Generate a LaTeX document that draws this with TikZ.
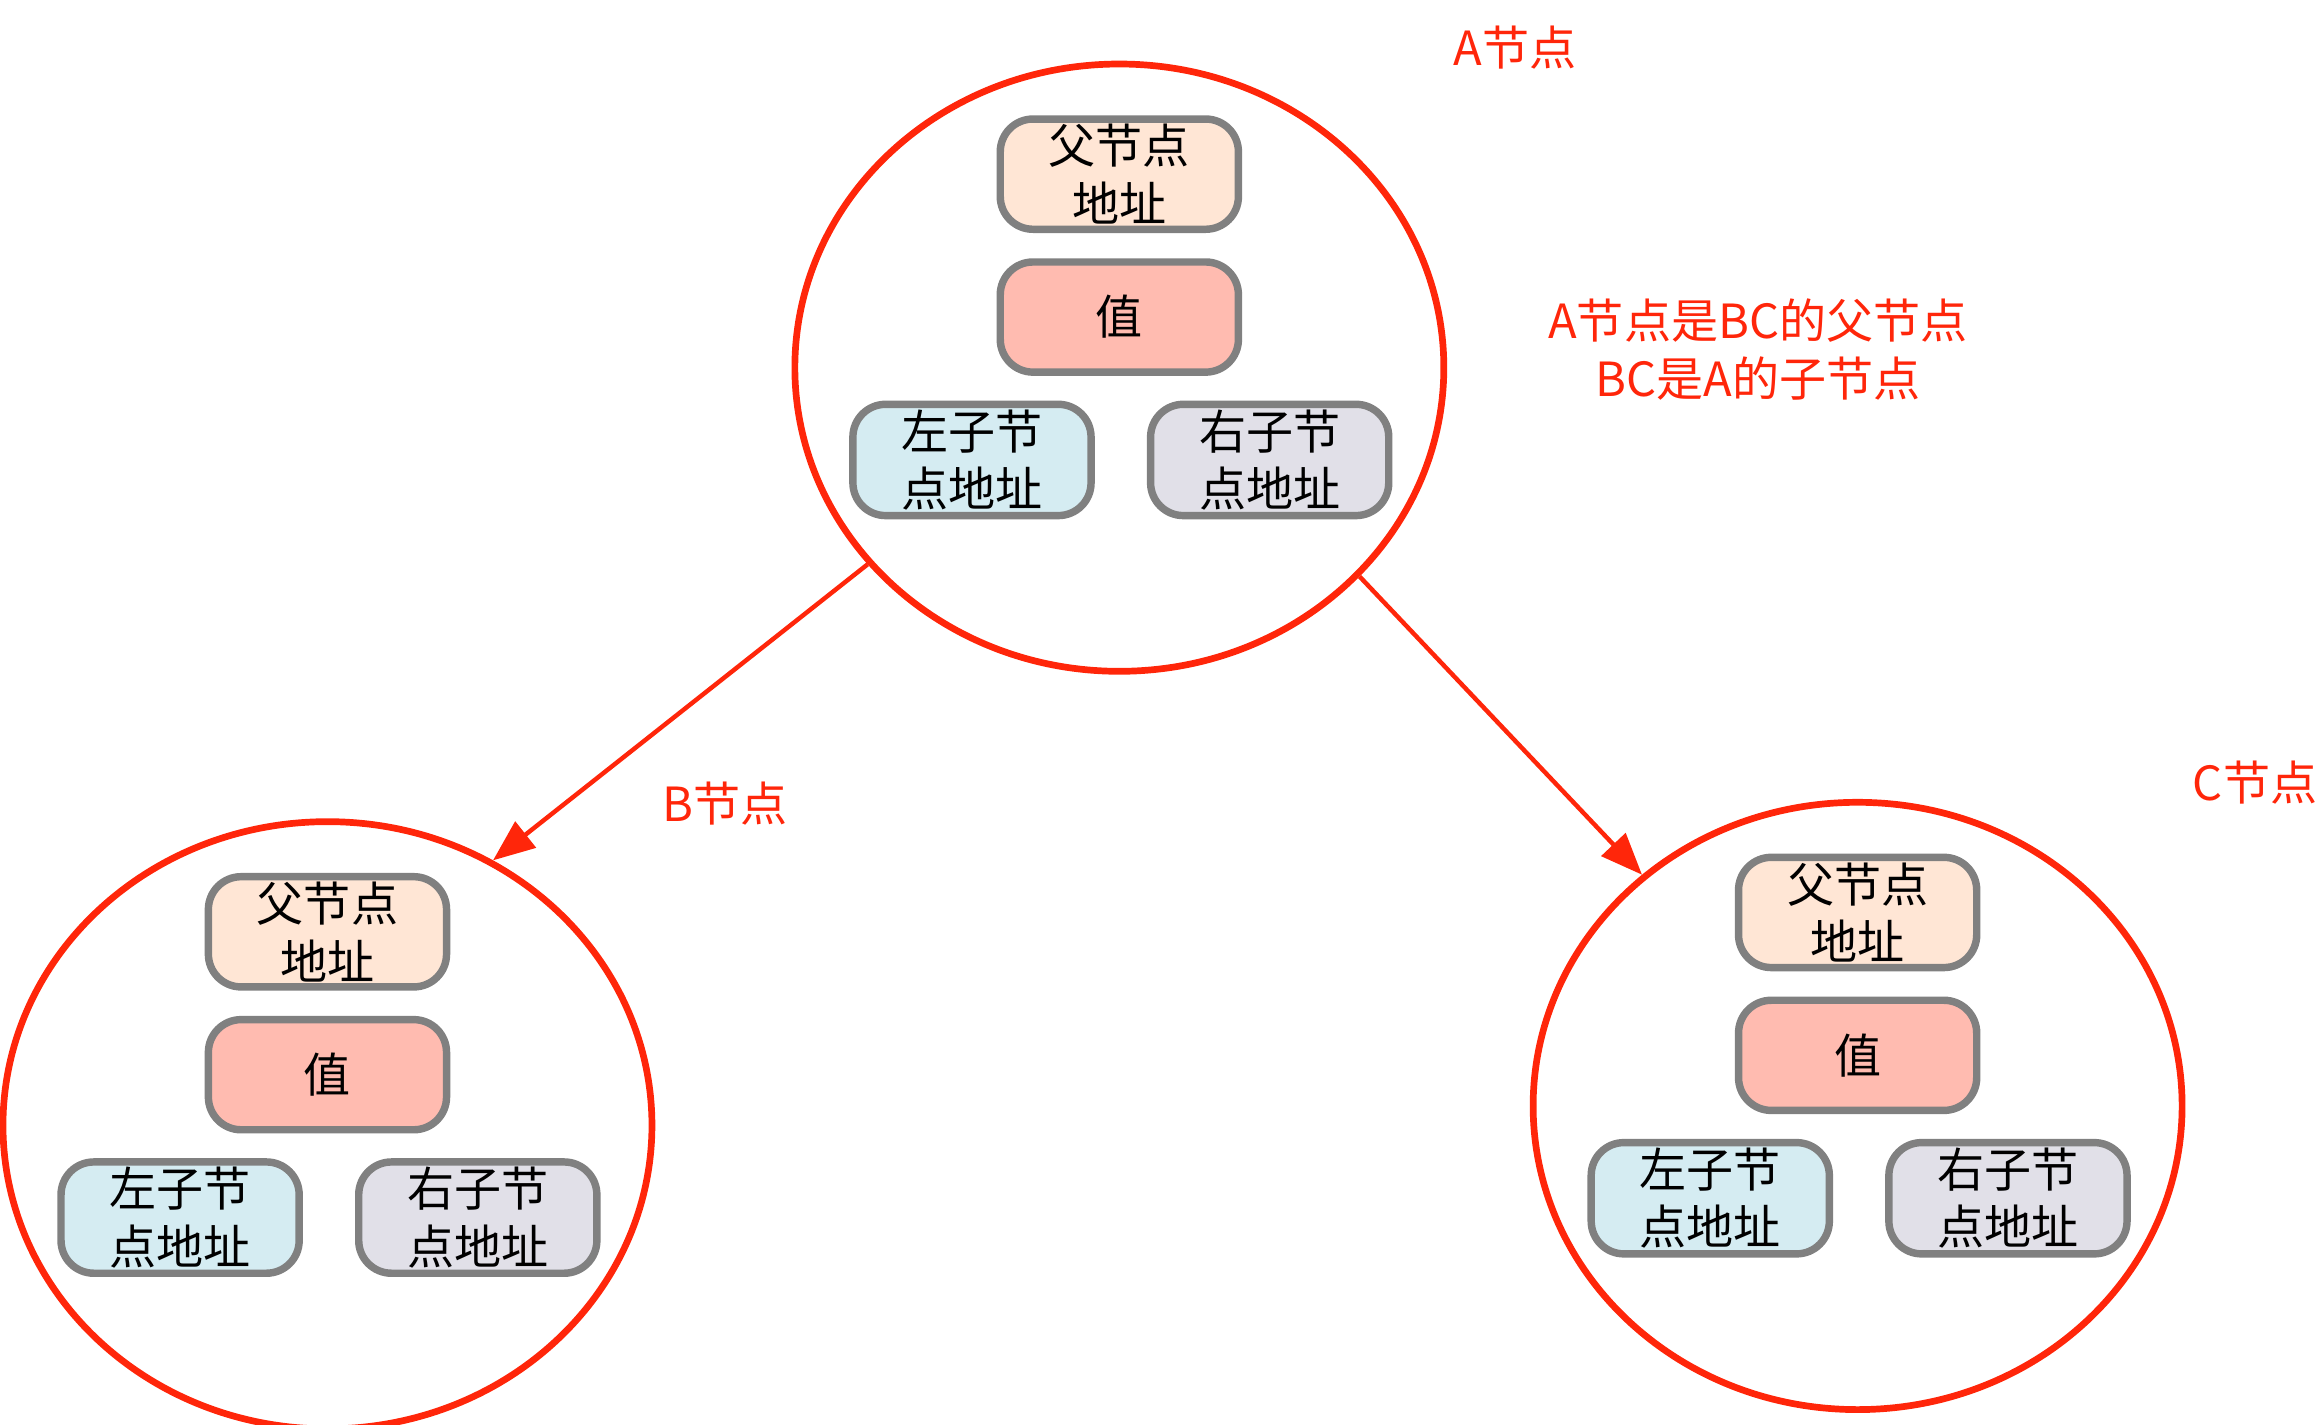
\documentclass[tikz,border=0pt]{standalone}
\usepackage{fontspec}
\newfontfamily\cjk{Noto Sans CJK SC}
\usetikzlibrary{shapes.geometric,arrows.meta,calc,positioning}

\definecolor{redline}{RGB}{255,38,10}
\definecolor{parentcolor}{RGB}{255,230,213}
\definecolor{valuecolor}{RGB}{255,187,176}
\definecolor{leftcolor}{RGB}{213,236,242}
\definecolor{rightcolor}{RGB}{225,224,232}
\definecolor{boxline}{RGB}{128,128,128}

\tikzset{
  treecircle/.style={draw=redline,line width=0.45mm,ellipse,minimum width=4.36cm,minimum height=4.08cm},
  fieldbox/.style={draw=boxline,line width=0.5mm,rounded corners=0.22cm,minimum width=1.6cm,minimum height=0.74cm,align=center,font=\cjk\fontsize{9}{11}\selectfont,inner sep=1pt},
  redlabel/.style={text=redline,font=\cjk\fontsize{9}{11}\selectfont,align=center},
  childarrow/.style={draw=redline,line width=0.3mm,-{Triangle[length=0.28cm,width=0.22cm]}}
}

% one tree node with its four fields
\newcommand{\treenode}[2]{
  \node(#1) [treecircle] at (#2) {};
  \node(#1par) [fieldbox,fill=parentcolor] at ($(#1)+(0,1.30)$) {父节点\\地址};
  \node(#1val) [fieldbox,fill=valuecolor] at ($(#1)+(0,0.34)$) {值};
  \node(#1lft) [fieldbox,fill=leftcolor] at ($(#1)+(-0.99,-0.62)$) {左子节\\点地址};
  \node(#1rgt) [fieldbox,fill=rightcolor] at ($(#1)+(1.01,-0.62)$) {右子节\\点地址};
}

\begin{document}
\begin{tikzpicture}
  \useasboundingbox (0,0) rectangle (15.6,9.57);

  \treenode{nodeA}{7.52,7.10}
  \treenode{nodeB}{2.20,2.01}
  \treenode{nodeC}{12.48,2.14}

  \node(labelA) [redlabel] at (10.18,9.25) {A节点};
  \node(labelB) [redlabel] at (4.87,4.17) {B节点};
  \node(labelC) [redlabel] at (15.15,4.31) {C节点};
  \node(relation) [redlabel] at (11.81,7.22) {A节点是BC的父节点\\BC是A的子节点};

  \draw[childarrow] (nodeA.218) -- (nodeB.58);
  \draw[childarrow] (nodeA.319) -- (nodeC.133);
\end{tikzpicture}
\end{document}
